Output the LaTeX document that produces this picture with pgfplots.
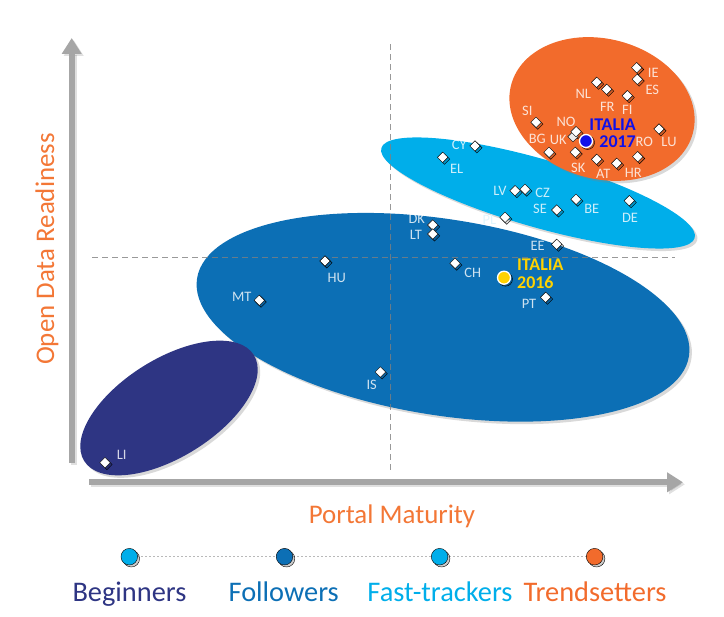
\documentclass[border=0pt]{standalone}
\usepackage{pgfplots}
\usepackage{pgfplotstable}
\pgfplotsset{compat=1.18}
\usepackage{fontspec}
\setmainfont{Carlito}
\usetikzlibrary{arrows.meta,shadows}

\definecolor{trend}{HTML}{F26B2C}
\definecolor{trendtxt}{HTML}{F37736}
\definecolor{fast}{HTML}{00AEEA}
\definecolor{follow}{HTML}{0C6FB5}
\definecolor{begin}{HTML}{2E3583}
\definecolor{axgrey}{HTML}{A6A6A6}
\definecolor{itblue}{HTML}{1010E8}
\definecolor{ityellow}{HTML}{FFD200}

% country: position, then offset of its label from the point
\pgfplotstableread{
lab x y dx dy
IE 636.7 549.3 16.6 -5.0
ES 637.3 537.7 15.0 -10.7
NL 596.7 534.7 -13.4 -11.7
FR 606.7 527.7 0.6 -17.4
FI 627.3 521.3 0.0 -14.0
SI 536.0 494.7 -8.7 11.3
NO 576.0 485.3 -10.0 10.0
LU 659.0 488.0 10.0 -12.7
BG 549.0 464.7 -11.7 13.0
SK 575.3 464.7 3.0 -15.4
RO 637.7 460.3 6.5 15.0
AT 596.7 457.7 6.6 -15.0
HR 616.7 453.7 16.6 -10.0
CY 475.0 471.0 -15.7 1.0
EL 442.7 459.7 14.0 -12.0
LV 515.0 426.3 -15.0 0.0
CZ 525.0 427.7 17.7 -3.4
BE 576.0 417.7 15.7 -10.0
SE 556.7 407.0 -16.7 0.7
DE 629.3 416.3 0.7 -17.0
DK 432.7 392.0 -16.0 6.0
LT 432.7 383.0 -16.7 -1.0
EE 556.7 372.7 -19.0 -1.7
HU 325.0 356.0 11.7 -17.3
MT 259.3 316.7 -17.6 3.6
CH 455.0 353.7 17.7 -10.0
PT 545.7 319.7 -16.7 -7.0
IS 380.3 245.0 -8.6 -13.0
LI 105.0 154.3 16.7 7.4
}\countries

\pgfplotstableread{
lab x y dx dy
UK 573.0 480.3 -14.7 -3.3
}\hidden

\pgfplotstableread{
lab x y dx dy
PL 505.0 399.7 -15.5 -2.7
}\poland

\pgfplotsset{
  country labels/.style={
    nodes near coords, point meta=explicit symbolic,
    visualization depends on={\thisrow{dx}\as\labdx},
    visualization depends on={\thisrow{dy}\as\labdy},
    every node near coord/.append style={anchor=center, inner sep=0pt,
        xshift=\labdx bp, yshift=\labdy bp,
        font=\fontsize{14.5}{16}\selectfont, text=white, text opacity=0.8}},
}

\begin{document}
\begin{tikzpicture}
\begin{axis}[
    name=ax,
    width=724bp, height=617bp,
    scale only axis,
    xmin=0, xmax=724, ymin=0, ymax=617,
    hide axis,
    clip=false,
]
% clusters
\fill[follow, drop shadow={shadow xshift=2.5bp, shadow yshift=-2.5bp, opacity=0.3}, rotate around={-9:(axis cs:443,299.7)}]
    (axis cs:443,299.7) ellipse [x radius=249bp, y radius=98bp];
\fill[begin, drop shadow={shadow xshift=2.5bp, shadow yshift=-2.5bp, opacity=0.3}, rotate around={32:(axis cs:169,209)}]
    (axis cs:169,209) ellipse [x radius=100bp, y radius=49bp];
\fill[fast, drop shadow={shadow xshift=2.5bp, shadow yshift=-2.5bp, opacity=0.3}, rotate around={-16:(axis cs:538,424)}]
    (axis cs:538,424) ellipse [x radius=163bp, y radius=34bp];
\fill[trend, drop shadow={shadow xshift=2.5bp, shadow yshift=-2.5bp, opacity=0.3}, rotate around={-15:(axis cs:602,508)}]
    (axis cs:602,508) ellipse [x radius=94bp, y radius=70bp];

% quadrant lines
\draw[gray, opacity=0.8, line width=1.5bp, dash pattern=on 6bp off 4bp] (axis cs:390.7,147) -- (axis cs:390.7,575);
\draw[gray, opacity=0.8, line width=1.5bp, dash pattern=on 6bp off 4bp] (axis cs:92,359.3) -- (axis cs:675,359.3);

% axes arrows
\draw[black, opacity=0.12, line width=6bp, -{Triangle[width=19bp,length=16bp]}] (axis cs:73.7,152) -- (axis cs:73.7,577);
\draw[black, opacity=0.12, line width=6bp, -{Triangle[width=19bp,length=16bp]}] (axis cs:91.3,132.7) -- (axis cs:685,132.7);
\draw[axgrey, line width=6bp, -{Triangle[width=19bp,length=16bp]}] (axis cs:71.7,154) -- (axis cs:71.7,579);
\draw[axgrey, line width=6bp, -{Triangle[width=19bp,length=16bp]}] (axis cs:89.3,134.7) -- (axis cs:683,134.7);

% countries
\addplot[only marks, mark=square*, mark size=3.7bp,
    mark options={xshift=1.8bp, yshift=-1.8bp, rotate=45, fill=black, draw=none, fill opacity=0.14}]
    table[x=x, y=y] {\countries};
\addplot[only marks, mark=square*, mark size=3.7bp,
    mark options={xshift=1.8bp, yshift=-1.8bp, rotate=45, fill=black, draw=none, fill opacity=0.14}]
    table[x=x, y=y] {\poland};
\addplot[only marks, mark=square*, mark size=3.7bp,
    mark options={rotate=45, fill=white!85!gray, draw=none}, country labels]
    table[x=x, y=y, meta=lab] {\hidden};
\addplot[only marks, mark=square*, mark size=3.7bp,
    mark options={rotate=45, fill=white, draw=none}, country labels]
    table[x=x, y=y, meta=lab] {\countries};
\addplot[only marks, mark=square*, mark size=3.7bp,
    mark options={rotate=45, fill=white, draw=none}, country labels,
    every node near coord/.append style={text=white!88!fast, text opacity=1}]
    table[x=x, y=y, meta=lab] {\poland};

% Italia 2016 / 2017
\addplot[only marks, mark=*, mark size=7bp, mark options={xshift=1.5bp, yshift=-1.5bp, fill=black, draw=none, fill opacity=0.2}]
    coordinates {(586,476) (504,339.3)};
\addplot[only marks, mark=*, mark size=6.5bp, mark options={fill=itblue, draw=white, line width=1.3bp}]
    coordinates {(586,476)};
\addplot[only marks, mark=*, mark size=6.5bp, mark options={fill=ityellow, draw=white, line width=1.3bp}]
    coordinates {(504,339.3)};
\node[anchor=east, align=right, inner sep=0pt, text=itblue, font=\bfseries\fontsize{18}{16.5}\selectfont]
    at (axis cs:636,483.8) {ITALIA\\2017};
\node[anchor=west, align=left, inner sep=0pt, text=ityellow, font=\bfseries\fontsize{18}{17.7}\selectfont]
    at (axis cs:517,343.2) {ITALIA\\2016};

% axis titles
\node[anchor=base, inner sep=0pt, text=trendtxt, font=\fontsize{27}{30}\selectfont] at (axis cs:392,93.5) {Portal Maturity};
\node[rotate=90, anchor=base, inner sep=0pt, text=trendtxt, font=\fontsize{27}{30}\selectfont] at (axis cs:54,368) {Open Data Readiness};

% legend
\addplot[gray!55, line width=0.8bp, dash pattern=on 2bp off 2bp] coordinates {(129.3,60.3) (594.6,60.3)};
\addplot[only marks, mark=*, mark size=8.3bp, mark options={xshift=2bp, yshift=-2bp, fill=black, draw=none, fill opacity=0.2}]
    coordinates {(129.3,60.3) (284.5,60.3) (439.6,60.3) (594.6,60.3)};
\addplot[only marks, mark=*, mark size=8.3bp, mark options={fill=fast, draw=none}] coordinates {(129.3,60.3)};
\addplot[only marks, mark=*, mark size=8.3bp, mark options={fill=follow, draw=none}] coordinates {(284.5,60.3)};
\addplot[only marks, mark=*, mark size=8.3bp, mark options={fill=fast, draw=none}] coordinates {(439.6,60.3)};
\addplot[only marks, mark=*, mark size=8.3bp, mark options={fill=trend, draw=none}] coordinates {(594.6,60.3)};
\node[anchor=base, inner sep=0pt, text=begin, font=\fontsize{28.5}{30}\selectfont] at (axis cs:129.5,16) {Beginners};
\node[anchor=base, inner sep=0pt, text=follow, font=\fontsize{28.5}{30}\selectfont] at (axis cs:283.7,16) {Followers};
\node[anchor=base, inner sep=0pt, text=fast, font=\fontsize{28.5}{30}\selectfont] at (axis cs:440,16) {Fast-trackers};
\node[anchor=base, inner sep=0pt, text=trend, font=\fontsize{28.5}{30}\selectfont] at (axis cs:595,16) {Trendsetters};
\end{axis}
\pgfresetboundingbox
\path (ax.south west) rectangle (ax.north east);
\end{tikzpicture}
\end{document}
